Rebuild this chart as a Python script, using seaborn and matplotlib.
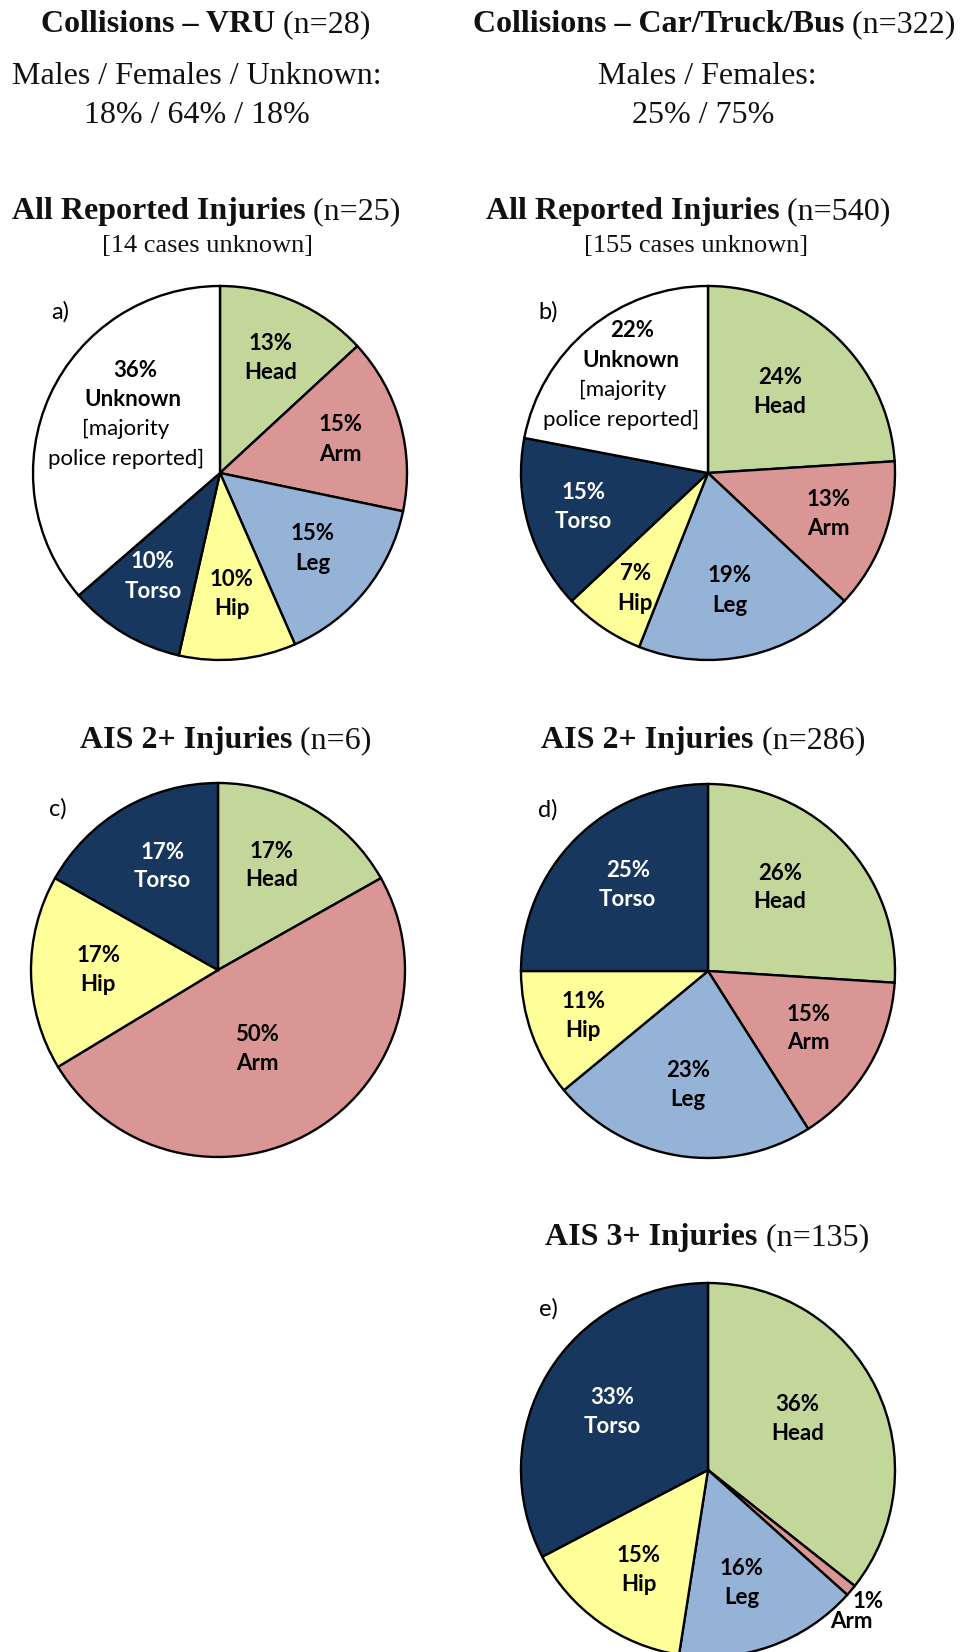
import numpy as np
import matplotlib
matplotlib.use("Agg")
import matplotlib.pyplot as plt
import matplotlib.transforms as mtransforms
import seaborn as sns

# ---------------- data ----------------
cats_a = ["Head", "Arm", "Leg", "Hip", "Torso", "Unknown"]
vals_a = [13, 15, 15, 10, 10, 36]

cats_b = ["Head", "Arm", "Leg", "Hip", "Torso", "Unknown"]
vals_b = [24, 13, 19, 7, 15, 22]

cats_c = ["Head", "Arm", "Hip", "Torso"]
vals_c = [17, 50, 17, 17]

cats_d = ["Head", "Arm", "Leg", "Hip", "Torso"]
vals_d = [26, 15, 23, 11, 25]

cats_e = ["Head", "Arm", "Leg", "Hip", "Torso"]
vals_e = [36, 1, 16, 15, 33]

unknown_note = ["[majority", "police reported]"]

# ---------------- style ----------------
sns.set_theme(style="white")
SERIF = ["Liberation Serif", "DejaVu Serif"]
SANS = ["Lato", "DejaVu Sans"]
plt.rcParams["font.family"] = SANS

part_colors = dict(zip(
    ["Head", "Arm", "Leg", "Hip", "Torso", "Unknown"],
    sns.color_palette(["#c4d79b", "#da9694", "#95b3d7", "#ffff99", "#17375e", "#ffffff"]),
))
text_colors = {"Torso": "white"}

W, H, DPI = 963, 1652, 100
fig = plt.figure(figsize=(W / DPI, H / DPI), dpi=DPI)
fig.patch.set_facecolor("white")
ident = mtransforms.IdentityTransform()
R = 187  # pie radius in pixels
PAD = 1.04


def mixed_line(xc, ybase, parts, size):
    """Centre a line made of differently weighted serif pieces."""
    texts = [fig.text(0, 0, s, fontsize=size, fontweight=w, family=SERIF,
                      ha="left", va="baseline", transform=ident, color="#111111")
             for s, w in parts]
    r = fig.canvas.get_renderer()
    widths = [t.get_window_extent(r).width for t in texts]
    x = xc - sum(widths) / 2
    for t, wd in zip(texts, widths):
        t.set_position((x, H - ybase))
        x += wd


def pie_panel(cx, cy, cats, vals, letter, fracs, shifts, pitch=29.5, line_style=None):
    line_style = line_style or {}
    ax = fig.add_axes([(cx - R * PAD) / W, (H - cy - R * PAD) / H,
                       2 * R * PAD / W, 2 * R * PAD / H])
    wedges, _ = ax.pie(vals, colors=[part_colors[c] for c in cats],
                       startangle=90, counterclock=False,
                       wedgeprops=dict(edgecolor="black", linewidth=1.7))
    ax.set_xlim(-PAD, PAD)
    ax.set_ylim(-PAD, PAD)
    ax.set_aspect("equal")
    ax.axis("off")
    for w, c, v, f, s in zip(wedges, cats, vals, fracs, shifts):
        mid = np.deg2rad((w.theta1 + w.theta2) / 2 - s)
        px, py = f * np.cos(mid), f * np.sin(mid)
        lines = [(f"{v}%", "bold"), (c, "bold")]
        if c == "Unknown":
            lines += [(t, "normal") for t in unknown_note]
        n = len(lines)
        lp, dxs = line_style.get(c, (pitch, [0] * n))
        for i, (txt, wt) in enumerate(lines):
            dy = ((n - 1) / 2 - i) * lp
            tr = mtransforms.offset_copy(ax.transData, fig=fig, x=dxs[i], y=dy, units="dots")
            ax.text(px, py, txt, transform=tr, ha="center", va="center",
                    fontsize=16, fontweight=wt, color=text_colors.get(c, "black"),
                    clip_on=False)
    fig.text(cx - 160, H - (cy - 161), letter, transform=ident, ha="center",
             va="center", fontsize=17, color="black")


# ---------------- headers ----------------
mixed_line(206, 32, [("Collisions \u2013 VRU", "bold"), (" (n=28)", "normal")], 23)
mixed_line(197, 84, [("Males / Females / Unknown:", "normal")], 23)
mixed_line(197, 123, [("18% / 64% / 18%", "normal")], 23)
mixed_line(206, 219, [("All Reported Injuries", "bold"), (" (n=25)", "normal")], 23)
mixed_line(207, 252, [("[14 cases unknown]", "normal")], 19)

mixed_line(714, 32, [("Collisions \u2013 Car/Truck/Bus", "bold"), (" (n=322)", "normal")], 23)
mixed_line(707, 84, [("Males / Females:", "normal")], 23)
mixed_line(703, 123, [("25% / 75%", "normal")], 23)
mixed_line(688, 219, [("All Reported Injuries", "bold"), (" (n=540)", "normal")], 23)
mixed_line(696, 252, [("[155 cases unknown]", "normal")], 19)

mixed_line(226, 748, [("AIS 2+ Injuries", "bold"), (" (n=6)", "normal")], 23)
mixed_line(703, 748, [("AIS 2+ Injuries", "bold"), (" (n=286)", "normal")], 23)
mixed_line(707, 1245, [("AIS 3+ Injuries", "bold"), (" (n=135)", "normal")], 23)

# ---------------- pies ----------------
pie_panel(220, 473, cats_a, vals_a, "a)",
          [0.67, 0.67, 0.64, 0.65, 0.66, 0.58], [0, 0, 0, 0, 2, 8],
          line_style={"Unknown": (29.5, [7, 4, -3, -3])})
pie_panel(708, 473, cats_b, vals_b, "b)",
          [0.58, 0.68, 0.64, 0.73, 0.69, 0.68], [-1.5, -1, 2, -2, 1, 0],
          line_style={"Unknown": (30, [5.5, 4, -4.5, -6])})
pie_panel(218, 970, cats_c, vals_c, "c)",
          [0.63, 0.47, 0.64, 0.63], [-3, 4, 1, 2], pitch=28.5)
pie_panel(708, 971, cats_d, vals_d, "d)",
          [0.59, 0.62, 0.62, 0.71, 0.63], [-6, -1, 1, 0, 2], pitch=28.5)
pie_panel(708, 1470, cats_e, vals_e, "e)",
          [0.55, 1.11, 0.63, 0.65, 0.60], [-4, 3.0, 3, -1, 0], pitch=28.5,
          line_style={"Arm": (20, [9, -8])})

fig.savefig("out.png", dpi=DPI, facecolor="white")
